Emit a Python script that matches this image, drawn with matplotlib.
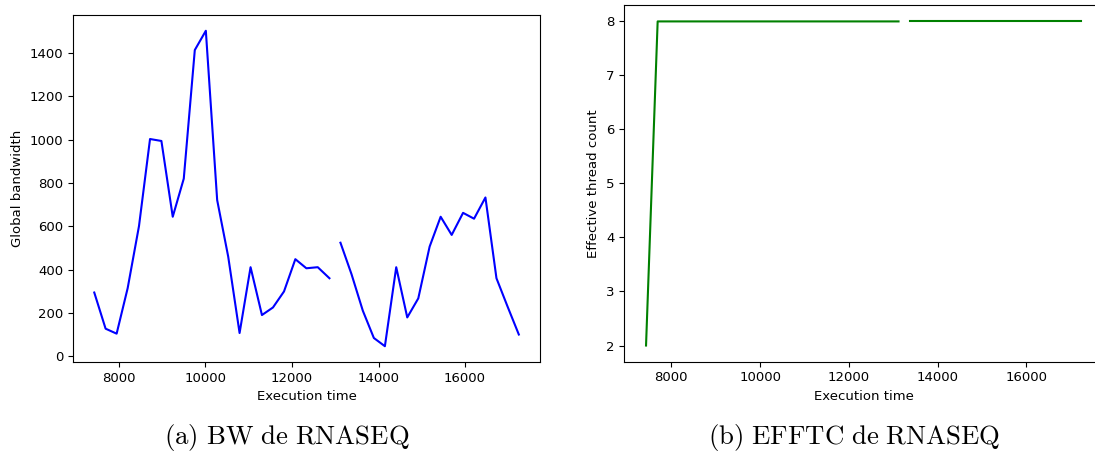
import numpy as np
import matplotlib
matplotlib.use("Agg")
import matplotlib.pyplot as plt

plt.rcParams['mathtext.fontset'] = 'cm'

# Tiempos de ejecucion (muestras)
tiempo = [7429, 7691, 7946, 8201, 8463, 8718, 8981, 9243, 9498, 9753,
          10008, 10270, 10525, 10788, 11042, 11305, 11560, 11815, 12077, 12332,
          12595, 12865, 13120, 13375, 13637, 13892, 14147, 14409, 14664, 14919,
          15181, 15436, 15691, 15954, 16208, 16471, 16726, 16981, 17243]

# Ancho de banda global, dos tramos
bw_tramo1 = [294, 127, 104, 314, 601, 1003, 994, 644, 820, 1414,
             1503, 721, 460, 107, 411, 190, 225, 299, 448, 406,
             411, 360]
bw_tramo2 = [524, 379, 210, 84, 46, 411, 179, 267, 506, 644,
             560, 662, 635, 733, 360, 230, 100]

# Numero efectivo de hilos, dos tramos
hilos_tramo1 = [2] + [8] * 22
hilos_tramo2 = [8] * 16

fig = plt.figure(figsize=(10.95, 4.53), dpi=100)

# (a) ancho de banda
ax1 = fig.add_axes([0.0667, 0.2009, 0.4265, 0.766])
n1 = len(bw_tramo1)
ax1.plot(tiempo[:n1], bw_tramo1, color='b', lw=1.5)
ax1.plot(tiempo[n1:], bw_tramo2, color='b', lw=1.5)
ax1.set_xticks([8000, 10000, 12000, 14000, 16000])
ax1.set_xlabel('Execution time', fontsize=9.5)
ax1.set_ylabel('Global bandwidth', fontsize=9.5)
ax1.tick_params(labelsize=9.5)

# (b) hilos efectivos
ax2 = fig.add_axes([0.5701, 0.2015, 0.4374, 0.787])
n2 = len(hilos_tramo1)
ax2.plot(tiempo[:n2], hilos_tramo1, color='g', lw=1.5)
ax2.plot(tiempo[n2:], hilos_tramo2, color='g', lw=1.5)
ax2.set_xticks([8000, 10000, 12000, 14000, 16000])
ax2.set_xlabel('Execution time', fontsize=9.5)
ax2.set_ylabel('Effective thread count', fontsize=9.5)
ax2.tick_params(labelsize=9.5)

# Subtitulos
fig.text(286.5 / 1095, 1 - 444 / 453, r'$\mathrm{(a)\ BW\ de\ RNASEQ}$',
         ha='center', va='baseline', fontsize=19.3)
fig.text(854 / 1095, 1 - 444 / 453, r'$\mathrm{(b)\ EFFTC\ de\ RNASEQ}$',
         ha='center', va='baseline', fontsize=19.3)

fig.savefig('out.png', dpi=100)
